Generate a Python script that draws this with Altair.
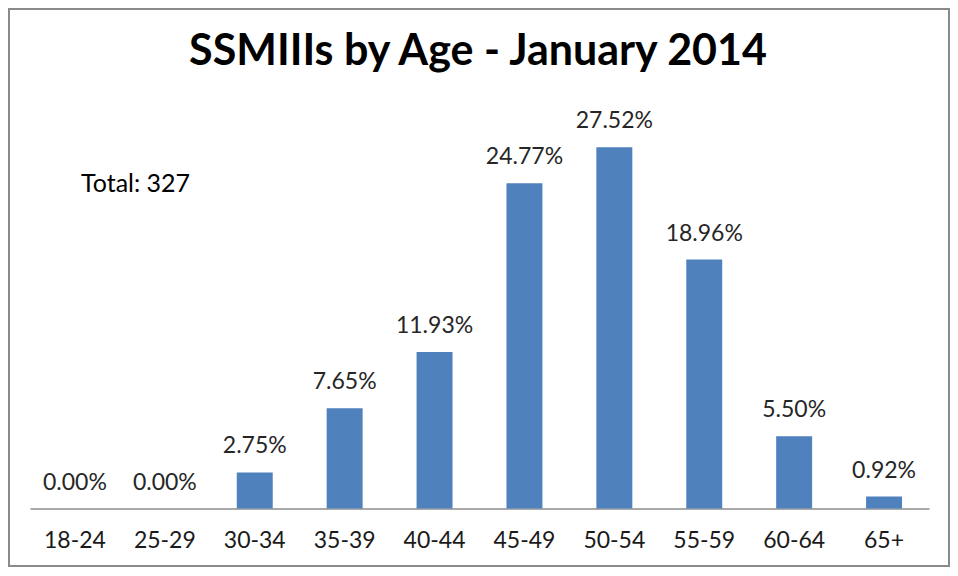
import altair as alt
import pandas as pd

ages = ["18-24", "25-29", "30-34", "35-39", "40-44", "45-49", "50-54", "55-59", "60-64", "65+"]
pct = [0.00, 0.00, 2.75, 7.65, 11.93, 24.77, 27.52, 18.96, 5.50, 0.92]
title_text = "SSMIIIs by Age - January 2014"
total_text = "Total: 327"

df = pd.DataFrame({"age": ages, "pct": pct})

FONT = "Lato"
W, H = 899, 394

base = alt.Chart(df).encode(
    x=alt.X(
        "age:N",
        sort=ages,
        scale=alt.Scale(paddingInner=0.6, paddingOuter=0.3),
        axis=alt.Axis(
            title=None, labelAngle=0, ticks=False, domainColor="#8c8c8c",
            domainWidth=1.5, labelFontSize=23, labelFont=FONT,
            labelColor="#1a1a1a", labelPadding=21,
        ),
    ),
    y=alt.Y("pct:Q", scale=alt.Scale(domain=[0, 30], nice=False), axis=None),
)

bars = base.mark_bar(color="#4F81BD")

labels = base.mark_text(
    baseline="alphabetic", dy=-19, fontSize=23, font=FONT, color="#262626"
).encode(text="label:N").transform_calculate(
    label="format(datum.pct, '.2f') + '%'"
)

title = alt.Chart(pd.DataFrame({"t": [title_text]})).mark_text(
    font=FONT, fontWeight="bold", fontSize=43, align="center",
    baseline="alphabetic", color="#000000",
).encode(text="t:N", x=alt.value(448), y=alt.value(-49.6))

total = alt.Chart(pd.DataFrame({"t": [total_text]})).mark_text(
    font=FONT, fontSize=25, align="left", baseline="alphabetic", color="#000000",
).encode(text="t:N", x=alt.value(51), y=alt.value(77))

border = alt.Chart(pd.DataFrame({"a": [0]})).mark_rect(
    fillOpacity=0, stroke="#8a8a8a", strokeWidth=2
).encode(
    x=alt.value(-21), x2=alt.value(919), y=alt.value(-105.6), y2=alt.value(451.4)
)

chart = alt.layer(border, bars, labels, title, total).properties(
    width=W,
    height=H,
    autosize=alt.AutoSizeParams(type="none"),
    padding={"left": 22, "top": 106.6, "right": 21, "bottom": 59.4},
).configure_view(stroke=None)

chart.save("out.html", embed_options={"renderer": "svg", "actions": False})
